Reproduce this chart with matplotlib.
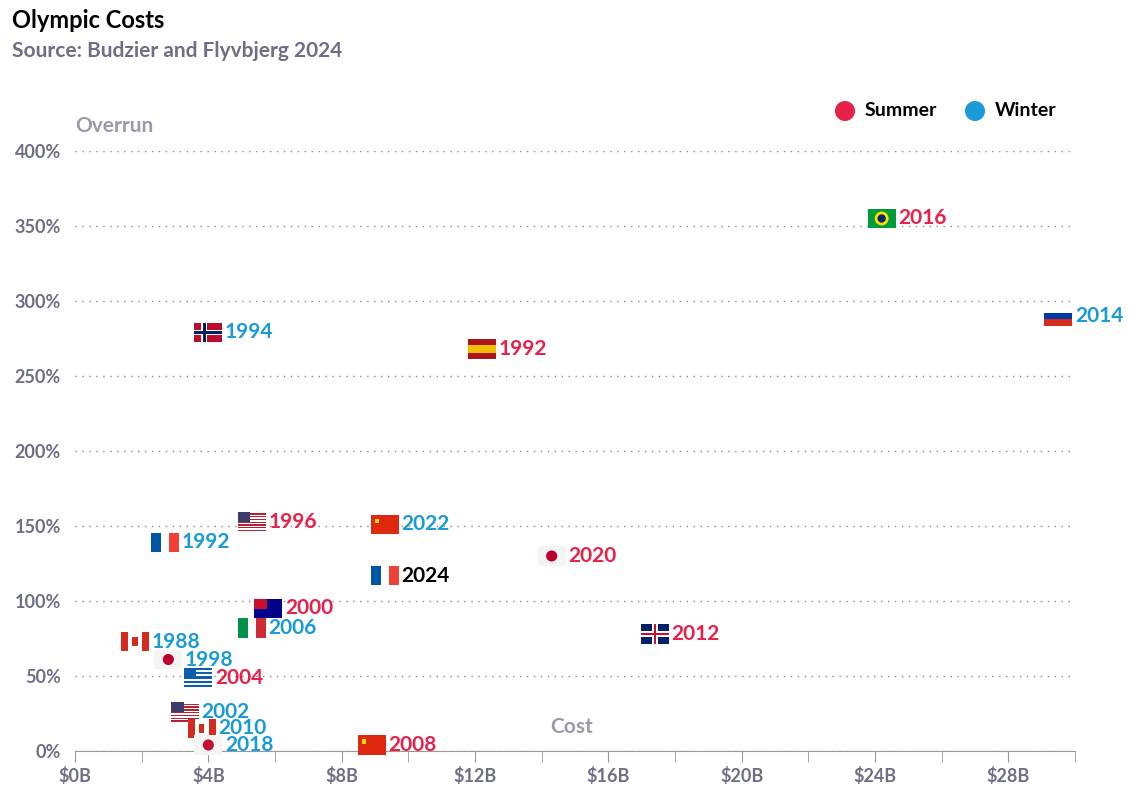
import matplotlib
matplotlib.use("Agg")
import matplotlib.pyplot as plt
from matplotlib.offsetbox import DrawingArea, AnnotationBbox
from matplotlib.patches import Rectangle, Circle

years = ["2016","2014","1994","1992","1996","2022","1992","2020","2024","2000","2006","2012","1988","1998","2004","2002","2010","2018","2008"]
season = ["S","W","W","S","S","W","W","S","P","S","W","S","W","W","S","W","W","W","S"]
country = ["BR","RU","NO","ES","US","CN","FR","JP","FR","AU","IT","GB","CA","JP","GR","US","CA","KR","CN"]
cost = [24.2,29.5,4.0,12.2,5.3,9.3,2.7,14.3,9.3,5.8,5.3,17.4,1.8,2.8,3.7,3.3,3.8,4.0,8.9]
overrun = [355,290,279,268,153,151,139,130,117,95,82,78,73,61,49,26,15,4,4]

RED, BLUE, GREY = "#e8214a", "#1a9ad6", "#6e6e85"
col = {"S": RED, "W": BLUE, "P": "black"}
plt.rcParams['font.family'] = ['Lato', 'DejaVu Sans']

fig = plt.figure(figsize=(11.32, 7.94), dpi=100)
ax = fig.add_axes([75/1132, 43/794, 1000/1132, 600/794])
ax.set_xlim(0, 30); ax.set_ylim(0, 400)
for s in ["top", "right", "left"]:
    ax.spines[s].set_visible(False)
ax.spines["bottom"].set_color("#999999")
ax.set_yticks(range(0, 401, 50))
ax.set_yticklabels([f"{v}%" for v in range(0, 401, 50)])
ax.set_xticks(range(0, 29, 4))
ax.set_xticklabels([f"\\${v}B" for v in range(0, 29, 4)])
ax.set_xticks(range(0, 31, 2), minor=True)
ax.tick_params(axis="y", length=0, labelsize=13, labelcolor=GREY, pad=10)
ax.tick_params(axis="x", which="both", length=8, color="#999999", labelsize=13, labelcolor=GREY)
for t in ax.get_xticklabels() + ax.get_yticklabels():
    t.set_fontweight("bold")
ax.grid(axis="y", linestyle=(0, (1, 4)), color="#888888", linewidth=1)
ax.set_axisbelow(True)

def flag(c):
    w, h = 20, 14
    da = DrawingArea(w, h, 0, 0)
    def R(x, y, ww, hh, fc):
        da.add_artist(Rectangle((x, y), ww, hh, fc=fc, ec="none"))
    if c == "FR":
        R(0,0,7,h,"#0055a4"); R(7,0,6,h,"white"); R(13,0,7,h,"#ef4135")
    elif c == "IT":
        R(0,0,7,h,"#009246"); R(7,0,6,h,"white"); R(13,0,7,h,"#ce2b37")
    elif c == "RU":
        R(0,9,w,5,"white"); R(0,5,w,4,"#0039a6"); R(0,0,w,5,"#d52b1e")
    elif c in ("JP", "KR"):
        R(0,0,w,h,"#f4f4f4"); da.add_artist(Circle((10,7),4,fc="#bc002d" if c=="JP" else "#c60c30",ec="none"))
    elif c == "CN":
        R(0,0,w,h,"#de2910"); R(3,8,3,3,"#ffde00")
    elif c == "US":
        for i in range(7):
            R(0,i*2,w,1,"#b22234"); R(0,i*2+1,w,1,"white")
        R(0,7,9,7,"#3c3b6e")
    elif c == "CA":
        R(0,0,5,h,"#d52b1e"); R(5,0,10,h,"white"); R(15,0,5,h,"#d52b1e"); R(8,4,4,6,"#d52b1e")
    elif c == "NO":
        R(0,0,w,h,"#ba0c2f"); R(5,0,4,h,"white"); R(0,5,w,4,"white"); R(6,0,2,h,"#00205b"); R(0,6,w,2,"#00205b")
    elif c == "ES":
        R(0,0,w,h,"#aa151b"); R(0,4,w,6,"#f1bf00")
    elif c == "BR":
        R(0,0,w,h,"#009c3b"); da.add_artist(Circle((10,7),5,fc="#ffdf00",ec="none")); da.add_artist(Circle((10,7),3,fc="#002776",ec="none"))
    elif c == "GB":
        R(0,0,w,h,"#012169"); R(8,0,4,h,"white"); R(0,5,w,4,"white"); R(9,0,2,h,"#c8102e"); R(0,6,w,2,"#c8102e")
    elif c == "AU":
        R(0,0,w,h,"#00008b"); R(0,7,9,7,"#c8102e")
    elif c == "GR":
        for i in range(9):
            R(0,i*14/9,w,14/9,"#0d5eaf" if i%2==0 else "white")
        R(0,14*4/9,8,14*5/9,"#0d5eaf")
    return da

for x, y, yr, s, c in zip(cost, overrun, years, season, country):
    ab = AnnotationBbox(flag(c), (x, y), frameon=False, box_alignment=(0.5, 0.5), annotation_clip=False)
    ax.add_artist(ab)
    ax.annotate(yr, (x, y), xytext=(12, 0), textcoords="offset points", va="center", ha="left",
                fontsize=15, fontweight="bold", color=col[s], annotation_clip=False)

ax.text(0, 1.025, "Overrun", transform=ax.transAxes, fontsize=15, fontweight="bold", color="#9a9aab", va="bottom")
ax.text(0.475, 0.03, "Cost", transform=ax.transAxes, fontsize=15, fontweight="bold", color="#9a9aab", ha="left")

fig.text(12/1132, 1-20/794, "Olympic Costs", fontsize=17, fontweight="bold", color="black", va="center")
fig.text(12/1132, 1-51/794, "Source: Budzier and Flyvbjerg 2024", fontsize=15, fontweight="bold", color=GREY, va="center")

for xx, lab, cc in [(845, "Summer", RED), (975, "Winter", BLUE)]:
    fig.patches.append(Circle((xx/100, (794-111)/100), 0.1, transform=fig.dpi_scale_trans, fc=cc, ec="none"))
    fig.text((xx+20)/1132, 1-111/794, lab, fontsize=14, fontweight="bold", color="black", va="center")

fig.savefig("out.png", dpi=100)
